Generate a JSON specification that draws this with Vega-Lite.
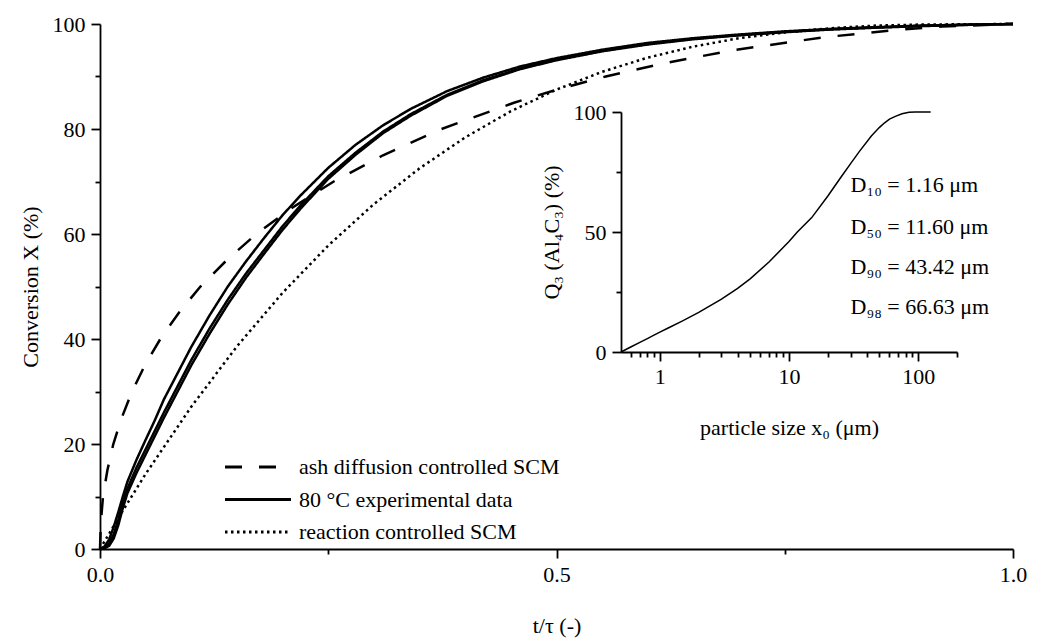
{
  "$schema": "https://vega.github.io/schema/vega-lite/v6.json",
  "width": 913,
  "height": 525,
  "autosize": {"type": "none"},
  "padding": {"left": 100, "top": 24, "right": 30, "bottom": 93},
  "config": {
    "font": "Liberation Serif",
    "view": {"stroke": null},
    "axis": {
      "grid": false,
      "domainColor": "black",
      "domainWidth": 1.8,
      "tickColor": "black",
      "tickWidth": 1.8,
      "labelColor": "black",
      "labelFontSize": 22,
      "labelFont": "Liberation Serif",
      "titleFont": "Liberation Serif",
      "titleFontSize": 22,
      "titleFontWeight": "normal",
      "titleColor": "black",
      "labelOverlap": false,
      "labelFlush": false
    }
  },
  "datasets": {
    "kinetics": [
      {"series": "ash diffusion controlled SCM", "run": "ash", "t": 0, "X": 0},
      {"series": "ash diffusion controlled SCM", "run": "ash", "t": 0.0009, "X": 5},
      {"series": "ash diffusion controlled SCM", "run": "ash", "t": 0.0033, "X": 10},
      {"series": "ash diffusion controlled SCM", "run": "ash", "t": 0.0081, "X": 15},
      {"series": "ash diffusion controlled SCM", "run": "ash", "t": 0.0146, "X": 20},
      {"series": "ash diffusion controlled SCM", "run": "ash", "t": 0.0238, "X": 25},
      {"series": "ash diffusion controlled SCM", "run": "ash", "t": 0.0351, "X": 30},
      {"series": "ash diffusion controlled SCM", "run": "ash", "t": 0.0491, "X": 35},
      {"series": "ash diffusion controlled SCM", "run": "ash", "t": 0.0661, "X": 40},
      {"series": "ash diffusion controlled SCM", "run": "ash", "t": 0.0864, "X": 45},
      {"series": "ash diffusion controlled SCM", "run": "ash", "t": 0.11, "X": 50},
      {"series": "ash diffusion controlled SCM", "run": "ash", "t": 0.1387, "X": 55},
      {"series": "ash diffusion controlled SCM", "run": "ash", "t": 0.1713, "X": 60},
      {"series": "ash diffusion controlled SCM", "run": "ash", "t": 0.2105, "X": 65},
      {"series": "ash diffusion controlled SCM", "run": "ash", "t": 0.256, "X": 70},
      {"series": "ash diffusion controlled SCM", "run": "ash", "t": 0.31, "X": 75},
      {"series": "ash diffusion controlled SCM", "run": "ash", "t": 0.374, "X": 80},
      {"series": "ash diffusion controlled SCM", "run": "ash", "t": 0.4534, "X": 85},
      {"series": "ash diffusion controlled SCM", "run": "ash", "t": 0.5003, "X": 87.5},
      {"series": "ash diffusion controlled SCM", "run": "ash", "t": 0.554, "X": 90},
      {"series": "ash diffusion controlled SCM", "run": "ash", "t": 0.617, "X": 92.5},
      {"series": "ash diffusion controlled SCM", "run": "ash", "t": 0.693, "X": 95},
      {"series": "ash diffusion controlled SCM", "run": "ash", "t": 0.794, "X": 97.5},
      {"series": "ash diffusion controlled SCM", "run": "ash", "t": 0.881, "X": 99},
      {"series": "ash diffusion controlled SCM", "run": "ash", "t": 0.9225, "X": 99.5},
      {"series": "ash diffusion controlled SCM", "run": "ash", "t": 1, "X": 100},

      {"series": "reaction controlled SCM", "run": "rxn", "t": 0, "X": 0},
      {"series": "reaction controlled SCM", "run": "rxn", "t": 0.025, "X": 7.3},
      {"series": "reaction controlled SCM", "run": "rxn", "t": 0.05, "X": 14.3},
      {"series": "reaction controlled SCM", "run": "rxn", "t": 0.1, "X": 27.1},
      {"series": "reaction controlled SCM", "run": "rxn", "t": 0.15, "X": 38.6},
      {"series": "reaction controlled SCM", "run": "rxn", "t": 0.2, "X": 48.8},
      {"series": "reaction controlled SCM", "run": "rxn", "t": 0.25, "X": 57.8},
      {"series": "reaction controlled SCM", "run": "rxn", "t": 0.3, "X": 65.7},
      {"series": "reaction controlled SCM", "run": "rxn", "t": 0.35, "X": 72.5},
      {"series": "reaction controlled SCM", "run": "rxn", "t": 0.4, "X": 78.4},
      {"series": "reaction controlled SCM", "run": "rxn", "t": 0.45, "X": 83.4},
      {"series": "reaction controlled SCM", "run": "rxn", "t": 0.5, "X": 87.5},
      {"series": "reaction controlled SCM", "run": "rxn", "t": 0.55, "X": 90.9},
      {"series": "reaction controlled SCM", "run": "rxn", "t": 0.6, "X": 93.6},
      {"series": "reaction controlled SCM", "run": "rxn", "t": 0.65, "X": 95.7},
      {"series": "reaction controlled SCM", "run": "rxn", "t": 0.7, "X": 97.3},
      {"series": "reaction controlled SCM", "run": "rxn", "t": 0.75, "X": 98.4},
      {"series": "reaction controlled SCM", "run": "rxn", "t": 0.8, "X": 99.2},
      {"series": "reaction controlled SCM", "run": "rxn", "t": 0.85, "X": 99.7},
      {"series": "reaction controlled SCM", "run": "rxn", "t": 0.9, "X": 99.9},
      {"series": "reaction controlled SCM", "run": "rxn", "t": 1, "X": 100},

      {"series": "80 °C experimental data", "run": "A", "t": 0, "X": 0},
      {"series": "80 °C experimental data", "run": "A", "t": 0.005, "X": 0.3},
      {"series": "80 °C experimental data", "run": "A", "t": 0.01, "X": 1},
      {"series": "80 °C experimental data", "run": "A", "t": 0.015, "X": 2.8},
      {"series": "80 °C experimental data", "run": "A", "t": 0.02, "X": 5.5},
      {"series": "80 °C experimental data", "run": "A", "t": 0.025, "X": 8.8},
      {"series": "80 °C experimental data", "run": "A", "t": 0.03, "X": 11.5},
      {"series": "80 °C experimental data", "run": "A", "t": 0.04, "X": 15.5},
      {"series": "80 °C experimental data", "run": "A", "t": 0.05, "X": 19},
      {"series": "80 °C experimental data", "run": "A", "t": 0.06, "X": 22.5},
      {"series": "80 °C experimental data", "run": "A", "t": 0.07, "X": 26},
      {"series": "80 °C experimental data", "run": "A", "t": 0.085, "X": 31},
      {"series": "80 °C experimental data", "run": "A", "t": 0.1, "X": 36},
      {"series": "80 °C experimental data", "run": "A", "t": 0.12, "X": 42},
      {"series": "80 °C experimental data", "run": "A", "t": 0.14, "X": 47.5},
      {"series": "80 °C experimental data", "run": "A", "t": 0.16, "X": 52.5},
      {"series": "80 °C experimental data", "run": "A", "t": 0.18, "X": 57},
      {"series": "80 °C experimental data", "run": "A", "t": 0.2, "X": 61.5},
      {"series": "80 °C experimental data", "run": "A", "t": 0.22, "X": 65.5},
      {"series": "80 °C experimental data", "run": "A", "t": 0.25, "X": 71},
      {"series": "80 °C experimental data", "run": "A", "t": 0.28, "X": 75.5},
      {"series": "80 °C experimental data", "run": "A", "t": 0.31, "X": 79.5},
      {"series": "80 °C experimental data", "run": "A", "t": 0.34, "X": 82.8},
      {"series": "80 °C experimental data", "run": "A", "t": 0.38, "X": 86.5},
      {"series": "80 °C experimental data", "run": "A", "t": 0.42, "X": 89.3},
      {"series": "80 °C experimental data", "run": "A", "t": 0.46, "X": 91.5},
      {"series": "80 °C experimental data", "run": "A", "t": 0.5, "X": 93.2},
      {"series": "80 °C experimental data", "run": "A", "t": 0.55, "X": 94.9},
      {"series": "80 °C experimental data", "run": "A", "t": 0.6, "X": 96.2},
      {"series": "80 °C experimental data", "run": "A", "t": 0.65, "X": 97.2},
      {"series": "80 °C experimental data", "run": "A", "t": 0.7, "X": 97.9},
      {"series": "80 °C experimental data", "run": "A", "t": 0.75, "X": 98.5},
      {"series": "80 °C experimental data", "run": "A", "t": 0.8, "X": 99},
      {"series": "80 °C experimental data", "run": "A", "t": 0.85, "X": 99.35},
      {"series": "80 °C experimental data", "run": "A", "t": 0.9, "X": 99.65},
      {"series": "80 °C experimental data", "run": "A", "t": 0.95, "X": 99.85},
      {"series": "80 °C experimental data", "run": "A", "t": 1, "X": 100},

      {"series": "80 °C experimental data", "run": "B", "t": 0, "X": 0},
      {"series": "80 °C experimental data", "run": "B", "t": 0.005, "X": 0.5},
      {"series": "80 °C experimental data", "run": "B", "t": 0.01, "X": 1.8},
      {"series": "80 °C experimental data", "run": "B", "t": 0.015, "X": 4.2},
      {"series": "80 °C experimental data", "run": "B", "t": 0.02, "X": 7},
      {"series": "80 °C experimental data", "run": "B", "t": 0.025, "X": 10},
      {"series": "80 °C experimental data", "run": "B", "t": 0.03, "X": 12.8},
      {"series": "80 °C experimental data", "run": "B", "t": 0.04, "X": 17},
      {"series": "80 °C experimental data", "run": "B", "t": 0.05, "X": 20.8},
      {"series": "80 °C experimental data", "run": "B", "t": 0.06, "X": 24.5},
      {"series": "80 °C experimental data", "run": "B", "t": 0.07, "X": 28.5},
      {"series": "80 °C experimental data", "run": "B", "t": 0.085, "X": 33.5},
      {"series": "80 °C experimental data", "run": "B", "t": 0.1, "X": 38.5},
      {"series": "80 °C experimental data", "run": "B", "t": 0.12, "X": 44.5},
      {"series": "80 °C experimental data", "run": "B", "t": 0.14, "X": 50},
      {"series": "80 °C experimental data", "run": "B", "t": 0.16, "X": 54.8},
      {"series": "80 °C experimental data", "run": "B", "t": 0.18, "X": 59.3},
      {"series": "80 °C experimental data", "run": "B", "t": 0.2, "X": 63.6},
      {"series": "80 °C experimental data", "run": "B", "t": 0.22, "X": 67.4},
      {"series": "80 °C experimental data", "run": "B", "t": 0.25, "X": 72.6},
      {"series": "80 °C experimental data", "run": "B", "t": 0.28, "X": 77},
      {"series": "80 °C experimental data", "run": "B", "t": 0.31, "X": 80.7},
      {"series": "80 °C experimental data", "run": "B", "t": 0.34, "X": 83.8},
      {"series": "80 °C experimental data", "run": "B", "t": 0.38, "X": 87.2},
      {"series": "80 °C experimental data", "run": "B", "t": 0.42, "X": 89.8},
      {"series": "80 °C experimental data", "run": "B", "t": 0.46, "X": 91.9},
      {"series": "80 °C experimental data", "run": "B", "t": 0.5, "X": 93.5},
      {"series": "80 °C experimental data", "run": "B", "t": 0.55, "X": 95.1},
      {"series": "80 °C experimental data", "run": "B", "t": 0.6, "X": 96.4},
      {"series": "80 °C experimental data", "run": "B", "t": 0.65, "X": 97.3},
      {"series": "80 °C experimental data", "run": "B", "t": 0.7, "X": 98},
      {"series": "80 °C experimental data", "run": "B", "t": 0.75, "X": 98.6},
      {"series": "80 °C experimental data", "run": "B", "t": 0.8, "X": 99.05},
      {"series": "80 °C experimental data", "run": "B", "t": 0.85, "X": 99.4},
      {"series": "80 °C experimental data", "run": "B", "t": 0.9, "X": 99.7},
      {"series": "80 °C experimental data", "run": "B", "t": 0.95, "X": 99.88},
      {"series": "80 °C experimental data", "run": "B", "t": 1, "X": 100},

      {"series": "80 °C experimental data", "run": "C", "t": 0, "X": 0},
      {"series": "80 °C experimental data", "run": "C", "t": 0.005, "X": 0.1},
      {"series": "80 °C experimental data", "run": "C", "t": 0.01, "X": 0.6},
      {"series": "80 °C experimental data", "run": "C", "t": 0.015, "X": 2},
      {"series": "80 °C experimental data", "run": "C", "t": 0.02, "X": 4.5},
      {"series": "80 °C experimental data", "run": "C", "t": 0.025, "X": 7.8},
      {"series": "80 °C experimental data", "run": "C", "t": 0.03, "X": 10.6},
      {"series": "80 °C experimental data", "run": "C", "t": 0.04, "X": 14.5},
      {"series": "80 °C experimental data", "run": "C", "t": 0.05, "X": 18},
      {"series": "80 °C experimental data", "run": "C", "t": 0.06, "X": 21.5},
      {"series": "80 °C experimental data", "run": "C", "t": 0.07, "X": 25},
      {"series": "80 °C experimental data", "run": "C", "t": 0.085, "X": 30},
      {"series": "80 °C experimental data", "run": "C", "t": 0.1, "X": 35},
      {"series": "80 °C experimental data", "run": "C", "t": 0.12, "X": 41},
      {"series": "80 °C experimental data", "run": "C", "t": 0.14, "X": 46.6},
      {"series": "80 °C experimental data", "run": "C", "t": 0.16, "X": 51.7},
      {"series": "80 °C experimental data", "run": "C", "t": 0.18, "X": 56.3},
      {"series": "80 °C experimental data", "run": "C", "t": 0.2, "X": 60.8},
      {"series": "80 °C experimental data", "run": "C", "t": 0.22, "X": 64.9},
      {"series": "80 °C experimental data", "run": "C", "t": 0.25, "X": 70.5},
      {"series": "80 °C experimental data", "run": "C", "t": 0.28, "X": 75.1},
      {"series": "80 °C experimental data", "run": "C", "t": 0.31, "X": 79.2},
      {"series": "80 °C experimental data", "run": "C", "t": 0.34, "X": 82.5},
      {"series": "80 °C experimental data", "run": "C", "t": 0.38, "X": 86.3},
      {"series": "80 °C experimental data", "run": "C", "t": 0.42, "X": 89.1},
      {"series": "80 °C experimental data", "run": "C", "t": 0.46, "X": 91.4},
      {"series": "80 °C experimental data", "run": "C", "t": 0.5, "X": 93.1},
      {"series": "80 °C experimental data", "run": "C", "t": 0.55, "X": 94.8},
      {"series": "80 °C experimental data", "run": "C", "t": 0.6, "X": 96.1},
      {"series": "80 °C experimental data", "run": "C", "t": 0.65, "X": 97.1},
      {"series": "80 °C experimental data", "run": "C", "t": 0.7, "X": 97.85},
      {"series": "80 °C experimental data", "run": "C", "t": 0.75, "X": 98.45},
      {"series": "80 °C experimental data", "run": "C", "t": 0.8, "X": 98.95},
      {"series": "80 °C experimental data", "run": "C", "t": 0.85, "X": 99.3},
      {"series": "80 °C experimental data", "run": "C", "t": 0.9, "X": 99.6},
      {"series": "80 °C experimental data", "run": "C", "t": 0.95, "X": 99.83},
      {"series": "80 °C experimental data", "run": "C", "t": 1, "X": 100}
    ],
    "psd": [
      {"size": 0.5, "Q3": 0},
      {"size": 0.6, "Q3": 2.2},
      {"size": 0.7, "Q3": 4},
      {"size": 0.8, "Q3": 5.6},
      {"size": 0.9, "Q3": 7},
      {"size": 1, "Q3": 8.3},
      {"size": 1.16, "Q3": 10},
      {"size": 1.5, "Q3": 13},
      {"size": 2, "Q3": 16.5},
      {"size": 3, "Q3": 22},
      {"size": 4, "Q3": 26.5},
      {"size": 5, "Q3": 30.5},
      {"size": 7, "Q3": 37.5},
      {"size": 10, "Q3": 46},
      {"size": 11.6, "Q3": 50},
      {"size": 15, "Q3": 56},
      {"size": 20, "Q3": 65},
      {"size": 25, "Q3": 72.5},
      {"size": 30, "Q3": 78.5},
      {"size": 35, "Q3": 83.5},
      {"size": 43.42, "Q3": 90},
      {"size": 50, "Q3": 93.5},
      {"size": 55, "Q3": 95.5},
      {"size": 60, "Q3": 97},
      {"size": 66.63, "Q3": 98.2},
      {"size": 75, "Q3": 99.3},
      {"size": 85, "Q3": 99.9},
      {"size": 95, "Q3": 100},
      {"size": 125, "Q3": 100}
    ],
    "dvalues": [
      {"size": 30, "Q3": 69.6, "label": "D₁₀ = 1.16 μm"},
      {"size": 30, "Q3": 52.1, "label": "D₅₀ = 11.60 μm"},
      {"size": 30, "Q3": 35.4, "label": "D₉₀ = 43.42 μm"},
      {"size": 30, "Q3": 18.8, "label": "D₉₈ = 66.63 μm"}
    ]
  },
  "layer": [
    {
      "data": {"name": "kinetics"},
      "mark": {"type": "line", "color": "black", "strokeWidth": 2.5, "strokeCap": "butt"},
      "encoding": {
        "x": {
          "field": "t", "type": "quantitative",
          "scale": {"domain": [0, 1], "nice": false, "zero": false},
          "axis": {
            "values": [0, 0.25, 0.5, 0.75, 1],
            "labelExpr": "datum.value % 0.5 === 0 ? format(datum.value, '.1f') : ''",
            "tickSize": {"condition": {"test": "datum.value % 0.5 === 0", "value": 9}, "value": 5},
            "labelPadding": 6,
            "title": "t/τ (-)",
            "titlePadding": 30
          }
        },
        "y": {
          "field": "X", "type": "quantitative",
          "scale": {"domain": [0, 100], "nice": false},
          "axis": {
            "values": [0, 10, 20, 30, 40, 50, 60, 70, 80, 90, 100],
            "labelExpr": "datum.value % 20 === 0 ? datum.label : ''",
            "tickSize": {"condition": {"test": "datum.value % 20 === 0", "value": 9}, "value": 5},
            "labelPadding": 6,
            "title": "Conversion X (%)",
            "titlePadding": 10
          }
        },
        "strokeDash": {
          "field": "series", "type": "nominal",
          "scale": {
            "domain": ["ash diffusion controlled SCM", "80 °C experimental data", "reaction controlled SCM"],
            "range": [[17, 17], [1, 0], [2.5, 3.5]]
          },
          "legend": {
            "orient": "none",
            "legendX": 146.5,
            "legendY": 431.5,
            "title": null,
            "symbolType": "M-3.3,0H3.3",
            "symbolSize": 400,
            "symbolStrokeWidth": 2.8,
            "symbolStrokeColor": "black",
            "symbolFillColor": "transparent",
            "labelFontSize": 22,
            "labelFont": "Liberation Serif",
            "labelColor": "black",
            "labelLimit": 0,
            "labelOffset": 29.5,
            "rowPadding": 9.5,
            "padding": 0
          }
        },
        "detail": {"field": "run", "type": "nominal"}
      }
    },
    {
      "layer": [
        {
          "data": {"name": "psd"},
          "mark": {"type": "line", "color": "black", "strokeWidth": 1.5},
          "encoding": {
            "x": {
              "field": "size", "type": "quantitative",
              "scale": {"type": "log", "domain": [0.5, 200], "range": [521, 857], "nice": false},
              "axis": {
                "orient": "bottom",
                "offset": -197,
                "values": [0.6, 0.7, 0.8, 0.9, 1, 2, 3, 4, 5, 6, 7, 8, 9, 10, 20, 30, 40, 50, 60, 70, 80, 90, 100, 200],
                "labelExpr": "(datum.value == 1 || datum.value == 10 || datum.value == 100) ? format(datum.value, 'd') : ''",
                "tickSize": {"condition": {"test": "datum.value == 1 || datum.value == 10 || datum.value == 100", "value": 9}, "value": 5},
                "labelPadding": 5,
                "title": "particle size x₀ (μm)",
                "titlePadding": 30
              }
            },
            "y": {
              "field": "Q3", "type": "quantitative",
              "scale": {"domain": [0, 100], "range": [328, 88], "nice": false},
              "axis": {
                "orient": "left",
                "offset": -521,
                "values": [0, 25, 50, 75, 100],
                "labelExpr": "datum.value % 50 === 0 ? datum.label : ''",
                "tickSize": {"condition": {"test": "datum.value % 50 === 0", "value": 9}, "value": 5},
                "labelPadding": 6,
                "title": "Q₃ (Al₄C₃) (%)",
                "titlePadding": 10
              }
            }
          }
        },
        {
          "data": {"name": "dvalues"},
          "mark": {"type": "text", "align": "left", "baseline": "middle", "fontSize": 22, "font": "Liberation Serif", "color": "black"},
          "encoding": {
            "x": {"field": "size", "type": "quantitative"},
            "y": {"field": "Q3", "type": "quantitative"},
            "text": {"field": "label", "type": "nominal"}
          }
        }
      ]
    }
  ],
  "resolve": {"scale": {"x": "independent", "y": "independent"}, "axis": {"x": "independent", "y": "independent"}}
}
